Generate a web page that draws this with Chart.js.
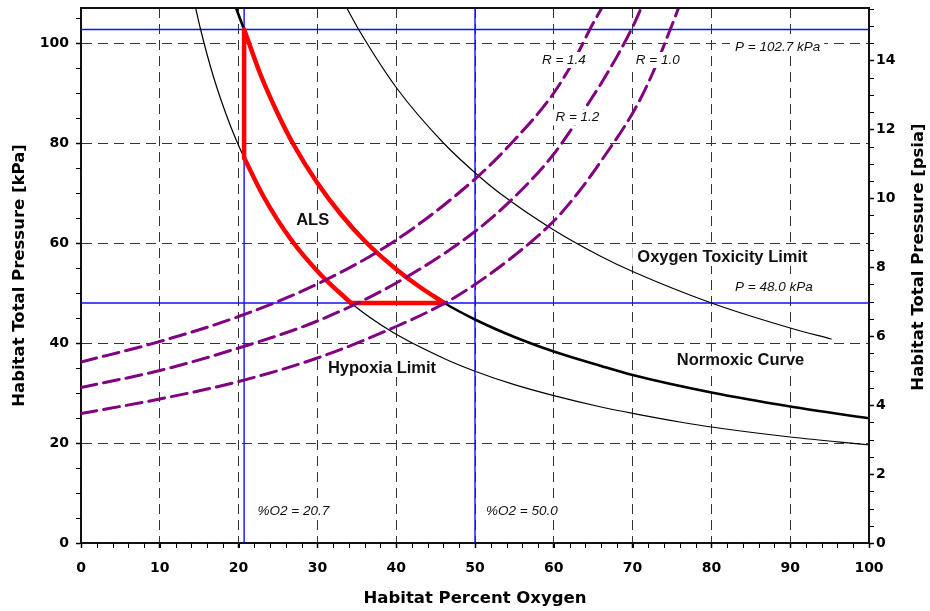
<!DOCTYPE html>
<html><head><meta charset="utf-8">
<script src="https://cdn.jsdelivr.net/npm/chart.js@4/dist/chart.umd.min.js"></script>
<style>html,body{margin:0;padding:0;background:#fff}canvas{display:block}</style>
</head><body>
<canvas id="c" width="930" height="611"></canvas>
<script>
// ---------- data ----------
const X_MIN = 0, X_MAX = 100, X_STEP = 10, X_MINOR = 2;
const Y_MIN = 0, Y_MAX_KPA = 107.0, Y_STEP = 20, Y_MINOR = 5;
const KPA_PER_PSIA = 6.89476, PSIA_STEP = 2, PSIA_MINOR = 0.5;

const normoxicX = [19.7, 20.7, 22.75, 24.9, 27.0, 30.0, 33.0, 36.2, 40.0, 43.0, 46.1, 50.0, 55.0, 60.0, 66.0, 70.0, 80.0, 90.0, 100.0];
const normoxicP = [106.9, 102.7, 93.8, 86.1, 79.6, 72.0, 65.7, 60.1, 54.75, 51.2, 48.0, 44.7, 41.2, 38.3, 35.4, 33.6, 30.1, 27.3, 24.95];

const hypoxiaX = [14.55, 15.1, 16.8, 18.9, 20.7, 23.2, 26.6, 30.4, 34.25, 39.3, 46.0, 50.0, 55.0, 60.0, 66.0, 70.0, 76.0, 80.0, 90.0, 100.0];
const hypoxiaP = [107.0, 103.2, 93.3, 83.7, 77.05, 69.2, 60.8, 53.7, 48.0, 42.4, 36.96, 34.36, 31.67, 29.47, 27.2, 25.93, 24.2, 23.2, 21.2, 19.6];

const toxicityX = [33.8, 35.2, 40.1, 46.0, 50.0, 53.2, 60.0, 66.0, 70.0, 80.0, 90.0, 95.2];
const toxicityP = [106.8, 102.8, 90.9, 80.0, 74.06, 69.9, 62.6, 57.3, 54.3, 48.0, 43.0, 40.8];

const r14X = [0, 10, 20, 30, 40, 50, 55, 60, 63, 64.5, 66.5];
const r14P = [36.2, 40.3, 45.3, 51.8, 60.6, 72.8, 80.6, 90.0, 97.8, 102.5, 108.2];
const r12X = [0, 10, 20, 30, 40, 50, 55, 60, 64.5, 67, 70, 71.5];
const r12P = [31.1, 34.5, 39.0, 44.4, 52.0, 62.3, 69.2, 77.8, 88.2, 94.5, 103.2, 108.5];
const r10X = [0, 10, 20, 30, 40, 46.2, 50, 55, 60, 63, 66.4, 70.2, 72.5, 74.8, 76.2];
const r10P = [25.9, 28.8, 32.3, 37.0, 43.3, 48.0, 51.7, 57.5, 64.4, 69.9, 77.3, 86.5, 93.8, 102.8, 108.5];
const rLabels = ['R = 1.4', 'R = 1.2', 'R = 1.0'];

const o2Markers = [20.7, 50.0];        // %O2
const pressureMarkers = [102.7, 48.0]; // kPa
const alsO2Range = [20.7, 46.1];       // ALS along normoxic curve
const alsHypoxiaRange = [20.7, 34.25]; // ALS along hypoxia limit
const alsFloor = 48.0;

// ---------- helpers ----------
const pts = (xs, ys) => xs.map((x, i) => ({x, y: ys[i]}));
const within = (xs, ys, lo, hi) => pts(xs, ys).filter(p => p.x >= lo - 1e-9 && p.x <= hi + 1e-9);
const curve = (data, color, width, order, dash) => ({
  data, borderColor: color, borderWidth: width, pointRadius: 0, showLine: true,
  cubicInterpolationMode: 'monotone', borderDash: dash || [], order, borderCapStyle: 'round', borderJoinStyle: 'round'
});

const RED = '#ff0000', PURPLE = '#800080', BLUE = '#1010ff';
const alsTop = normoxicP[normoxicX.indexOf(alsO2Range[0])];
const alsLeftBottom = hypoxiaP[hypoxiaX.indexOf(alsHypoxiaRange[0])];

const datasets = [
  curve(pts(r14X, r14P), PURPLE, 3, 1, [16, 7]),
  curve(pts(r12X, r12P), PURPLE, 3, 1, [16, 7]),
  curve(pts(r10X, r10P), PURPLE, 3, 1, [16, 7]),
  curve(within(normoxicX, normoxicP, alsO2Range[0], alsO2Range[1]), RED, 4.5, 2),
  curve(within(hypoxiaX, hypoxiaP, alsHypoxiaRange[0], alsHypoxiaRange[1]), RED, 4.5, 2),
  curve([{x: alsHypoxiaRange[1], y: alsFloor}, {x: alsO2Range[1], y: alsFloor}], RED, 4.5, 2),
  curve([{x: alsO2Range[0], y: alsLeftBottom}, {x: alsO2Range[0], y: alsTop}], RED, 4.5, 2),
  curve(pts(normoxicX, normoxicP), '#000', 2.6, 3),
  curve(pts(hypoxiaX, hypoxiaP), '#000', 1.2, 3),
  curve(pts(toxicityX, toxicityP), '#000', 1.2, 3),
];
o2Markers.forEach(v => datasets.push(curve([{x: v, y: Y_MIN}, {x: v, y: Y_MAX_KPA}], BLUE, 1.4, 4)));
pressureMarkers.forEach(v => datasets.push(curve([{x: X_MIN, y: v}, {x: X_MAX, y: v}], BLUE, 1.4, 4)));

// ---------- text annotations (anchors in data units) ----------
const BOLD_LBL = 'bold 16.5px "Liberation Sans", Arial, sans-serif';
const ITAL_LBL = 'italic 13.5px "Liberation Sans", Arial, sans-serif';
const notes = [
  {text: 'ALS', x: 29.4, y: 64.5, font: BOLD_LBL, align: 'center', h: 16},
  {text: 'Oxygen Toxicity Limit', x: 81.4, y: 57.2, font: BOLD_LBL, align: 'center', h: 16},
  {text: 'Normoxic Curve', x: 83.7, y: 36.5, font: BOLD_LBL, align: 'center', h: 16},
  {text: 'Hypoxia Limit', x: 38.2, y: 35.0, font: BOLD_LBL, align: 'center', h: 16},
  {text: rLabels[0], x: 58.5, y: 96.6, font: ITAL_LBL, align: 'left', h: 14},
  {text: rLabels[1], x: 60.2, y: 85.1, font: ITAL_LBL, align: 'left', h: 14},
  {text: rLabels[2], x: 70.4, y: 96.6, font: ITAL_LBL, align: 'left', h: 14},
  {text: '%O2 = ' + o2Markers[0].toFixed(1), x: 22.4, y: 6.3, font: ITAL_LBL, align: 'left', h: 14},
  {text: '%O2 = ' + o2Markers[1].toFixed(1), x: 51.4, y: 6.3, font: ITAL_LBL, align: 'left', h: 14},
  {text: 'P = ' + pressureMarkers[0].toFixed(1) + ' kPa', x: 83.0, y: 99.1, font: ITAL_LBL, align: 'left', h: 14},
  {text: 'P = ' + pressureMarkers[1].toFixed(1) + ' kPa', x: 83.0, y: 51.1, font: ITAL_LBL, align: 'left', h: 14},
];

const labelBoxes = {
  id: 'labelBoxes',
  afterDatasetsDraw(chart) {
    const {ctx, scales: {x, y}} = chart;
    ctx.save();
    ctx.fillStyle = '#fff';
    notes.forEach(n => {
      ctx.font = n.font;
      const w = ctx.measureText(n.text).width;
      const px = x.getPixelForValue(n.x), py = y.getPixelForValue(n.y);
      const left = n.align === 'center' ? px - w / 2 : px;
      ctx.fillRect(left - 5, py - n.h / 2 - 1, w + 9, n.h + 2);
    });
    ctx.restore();
  }
};

const decor = {
  id: 'decor',
  afterDraw(chart) {
    const {ctx, chartArea: a, scales: {x, y, y2}} = chart;
    ctx.save();
    ctx.strokeStyle = '#111'; ctx.lineWidth = 2;
    ctx.beginPath(); ctx.moveTo(a.left - 1, a.top); ctx.lineTo(a.right + 1, a.top); ctx.stroke();
    ctx.lineWidth = 1; ctx.strokeStyle = '#000';
    ctx.beginPath();
    for (let v = X_MIN; v <= X_MAX + 1e-9; v += X_MINOR) {
      const p = Math.round(x.getPixelForValue(v)) + 0.5;
      ctx.moveTo(p, a.bottom); ctx.lineTo(p, a.bottom + 5);
    }
    for (let v = Y_MIN; v <= Y_MAX_KPA + 1e-9; v += Y_MINOR) {
      const p = Math.round(y.getPixelForValue(v)) + 0.5;
      ctx.moveTo(a.left, p); ctx.lineTo(a.left - 5, p);
    }
    for (let v = 0; v <= y2.max + 1e-9; v += PSIA_MINOR) {
      const p = Math.round(y2.getPixelForValue(v)) + 0.5;
      ctx.moveTo(a.right, p); ctx.lineTo(a.right + 5, p);
    }
    ctx.stroke();
    ctx.fillStyle = '#111'; ctx.textBaseline = 'middle';
    notes.forEach(n => {
      ctx.font = n.font; ctx.textAlign = n.align;
      ctx.fillText(n.text, x.getPixelForValue(n.x), y.getPixelForValue(n.y));
    });
    ctx.font = 'bold 16.5px "DejaVu Sans", sans-serif';
    ctx.fillStyle = '#000'; ctx.textAlign = 'center';
    ctx.translate(919, 257); ctx.rotate(-Math.PI / 2);
    ctx.fillText('Habitat Total Pressure [psia]', 0, 0);
    ctx.restore();
  }
};

const TICK_FONT = {family: '"DejaVu Sans", sans-serif', weight: 'bold', size: 14};
const TITLE_FONT = {family: '"DejaVu Sans", sans-serif', weight: 'bold', size: 16.5};
const GRID = '#333';
const DASH = [10, 6];

new Chart(document.getElementById('c'), {
  type: 'scatter',
  data: {datasets},
  options: {
    responsive: false, animation: false, devicePixelRatio: 1,
    layout: {padding: {top: 8, left: 0, right: 0, bottom: 0}},
    plugins: {legend: {display: false}, tooltip: {enabled: false}},
    scales: {
      x: {
        type: 'linear', position: 'bottom', min: X_MIN, max: X_MAX,
        ticks: {stepSize: X_STEP, font: TICK_FONT, color: '#000', padding: 12, maxRotation: 0},
        grid: {color: c => (c.tick && (c.tick.value === X_MIN || c.tick.value === X_MAX)) ? 'rgba(0,0,0,0)' : GRID,
               lineWidth: 1, tickLength: 5, tickColor: '#000', tickWidth: 1.5},
        border: {display: true, color: '#111', width: 2, dash: DASH},
        title: {display: true, text: 'Habitat Percent Oxygen', font: TITLE_FONT, color: '#000', padding: {top: 0, bottom: 2}},
        afterFit: s => { s.height = 68; s.paddingLeft = 0; s.paddingRight = 0; }
      },
      y: {
        type: 'linear', position: 'left', min: Y_MIN, max: Y_MAX_KPA,
        ticks: {stepSize: Y_STEP, includeBounds: false, font: TICK_FONT, color: '#000', padding: 7},
        grid: {color: c => (c.tick && c.tick.value === Y_MIN) ? 'rgba(0,0,0,0)' : GRID,
               lineWidth: 1, tickLength: 5, tickColor: '#000', tickWidth: 1.5},
        border: {display: true, color: '#111', width: 2, dash: DASH},
        title: {display: true, text: 'Habitat Total Pressure [kPa]', font: TITLE_FONT, color: '#000', padding: {top: 10, bottom: 0}},
        afterFit: s => { s.width = 81; s.paddingTop = 0; s.paddingBottom = 0; }
      },
      y2: {
        type: 'linear', position: 'right', min: 0, max: Y_MAX_KPA / KPA_PER_PSIA,
        ticks: {stepSize: PSIA_STEP, includeBounds: false, font: TICK_FONT, color: '#000', padding: 2},
        grid: {drawOnChartArea: false, tickLength: 5, tickColor: '#000', tickWidth: 1.5},
        border: {display: true, color: '#111', width: 2},
        title: {display: false},
        afterFit: s => { s.width = 61; s.paddingTop = 0; s.paddingBottom = 0; }
      }
    }
  },
  plugins: [labelBoxes, decor]
});
</script>
</body></html>
